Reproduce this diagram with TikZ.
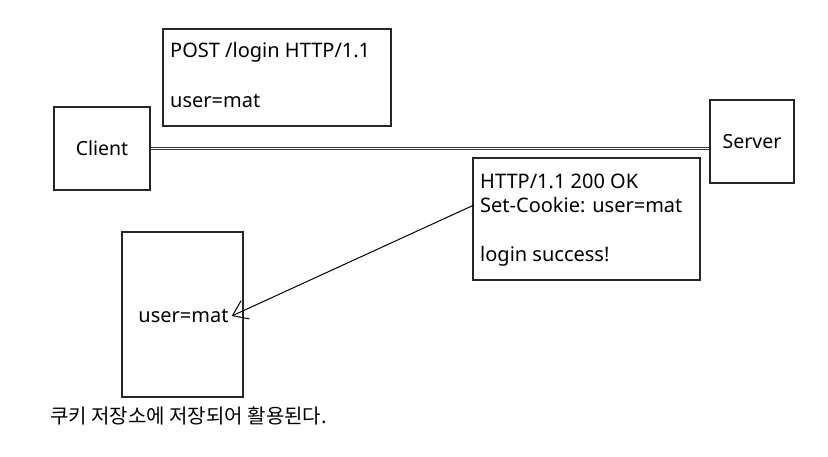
\documentclass[tikz,border=0pt]{standalone}
\usepackage{fontspec}
\setmainfont{Noto Sans}
\newfontfamily\krfont{Noto Sans CJK KR}
\usetikzlibrary{positioning,arrows.meta}

\begin{document}
\begin{tikzpicture}[
    x=1pt, y=1pt,
    box/.style={rectangle, draw=black!85, line width=1.2pt, fill=white, inner sep=0pt, font=\fontsize{19.5}{23}\selectfont},
    line/.style={anchor=west, inner sep=1pt, font=\fontsize{20}{23}\selectfont},
    arrow/.style={-{Straight Barb[length=14pt, width=20pt]}, line width=1pt},
    wire/.style={draw=black!80, double, double distance=1pt, line width=0.6pt}
]
\useasboundingbox (0,0) rectangle (828,-456);

% Client (left) and server (right)
\node[box, minimum width=96pt, minimum height=83pt] (client) at (102,-148.5) {Client};
\node[box, minimum width=84pt, minimum height=83pt] (server) at (752,-141.5) {Server};
\draw[wire] (client.east) -- (client.east -| server.west);

% Request (above the wire)
\node[box, minimum width=228pt, minimum height=97pt] (request) at (277,-77.5) {};
\node[line] (reqline) at (169,-52) {POST /login HTTP/1.1};
\node[line] (reqbody) at (169,-101) {user=mat};

% Response (below the wire)
\node[box, minimum width=227pt, minimum height=122pt] (response) at (586.5,-219) {};
\node[line] (status) at (479,-181) {HTTP/1.1 200 OK};
\node[line] (cookie) at (479,-205) {Set-Cookie: user=mat};
\node[line] (resbody) at (479,-256) {login success!};

% Cookie storage
\node[box, minimum width=121pt, minimum height=165pt] (store) at (182.5,-314.5) {};
\node[line, anchor=center] (stored) at (183.5,-316) {user=mat};
\draw[arrow] ([xshift=-5pt]cookie.west) -- ([xshift=2pt]stored.east);

% Note
\node[line, font=\krfont\fontsize{20}{24}\selectfont] (note) at (49,-416) {쿠키 저장소에 저장되어 활용된다.};

\end{tikzpicture}
\end{document}
